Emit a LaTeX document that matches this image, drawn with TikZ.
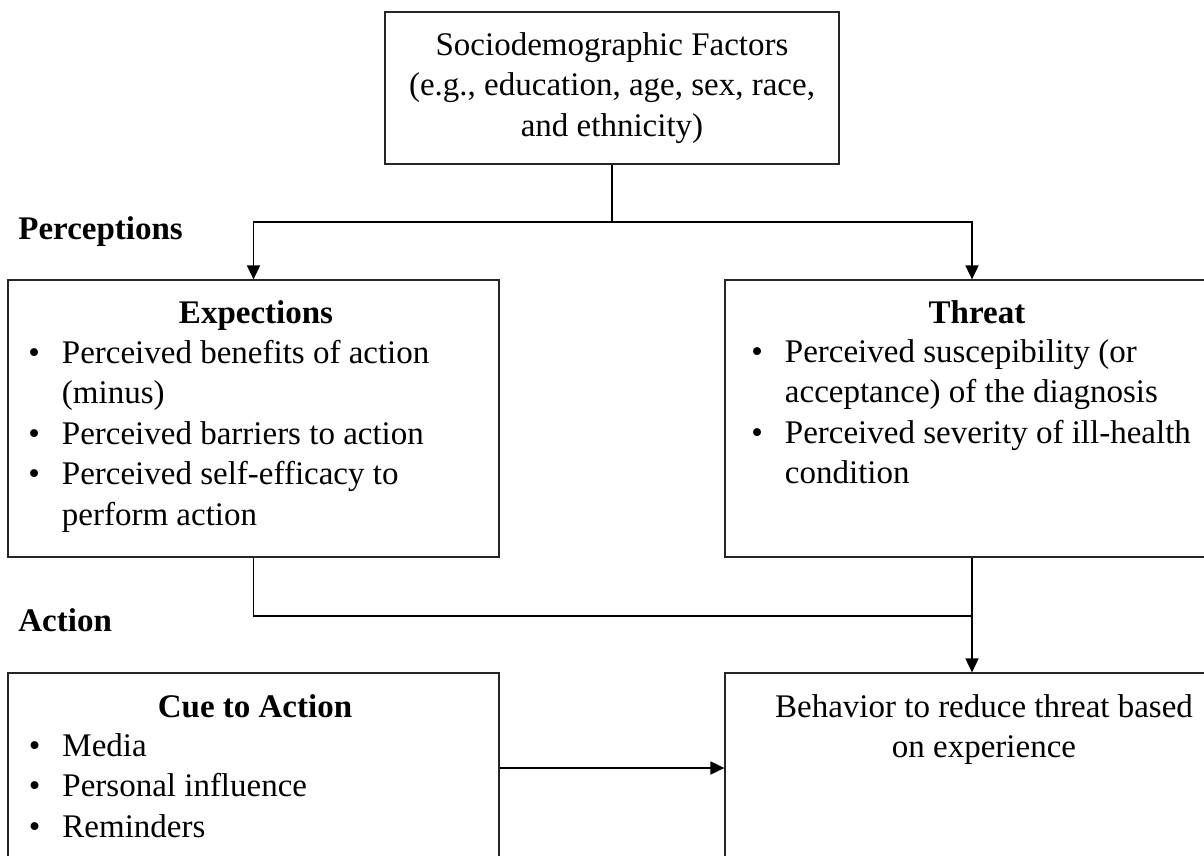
\documentclass[tikz,border=0pt]{standalone}
\usepackage{fontspec}
\setmainfont{Liberation Serif}
\usepackage{tikz}
\usetikzlibrary{arrows.meta, positioning, calc}

\begin{document}
\begin{tikzpicture}[
    x=0.5pt, y=-0.5pt,
    txt/.style={inner sep=0pt, font=\fontsize{16.5}{20.25}\selectfont},
    head/.style={txt, font=\fontsize{16.5}{20.25}\selectfont\bfseries},
    box/.style={rectangle, draw=black!85, line width=0.6pt, inner sep=0pt, align=center, font=\fontsize{16.5}{20.25}\selectfont},
    link/.style={line width=0.9pt, draw=black},
    arrow/.style={link, -{Triangle[length=7pt, width=6.5pt]}}
]
\clip (0,0) rectangle (1204,856);

% Top: background factors
\node[box, minimum width=227pt, minimum height=76pt] (sdf) at (612,88)
    {Sociodemographic Factors\\(e.g., education, age, sex, race,\\and ethnicity)};

% Row 1: perceptions
\node[head, anchor=base west] (perc_lbl) at (18,239) {Perceptions};
\node[box, minimum width=245.5pt, minimum height=138.5pt] (exp) at (253.5,418.5) {};
\node[box, minimum width=247pt, minimum height=138.5pt] (thr) at (972,418.5) {};

\node[head, anchor=base] (exp_head) at (256,323) {Expections};
\node[txt, anchor=base west] (exp_list) at (28,363) {\begin{tabular}[t]{@{}l@{\hspace{11pt}}l@{}}
    \textbullet & Perceived benefits of action\\
                & (minus)\\
    \textbullet & Perceived barriers to action\\
    \textbullet & Perceived self-efficacy to\\
                & perform action
  \end{tabular}};

\node[head, anchor=base] (thr_head) at (977,323) {Threat};
\node[txt, anchor=base west] (thr_list) at (751,362) {\begin{tabular}[t]{@{}l@{\hspace{11pt}}l@{}}
    \textbullet & Perceived suscepibility (or\\
                & acceptance) of the diagnosis\\
    \textbullet & Perceived severity of ill-health\\
                & condition
  \end{tabular}};

% Row 2: action
\node[head, anchor=base west] (act_lbl) at (18,631) {Action};
\node[box, minimum width=245.5pt, minimum height=95pt] (cue) at (253.5,768) {};
\node[box, minimum width=247pt, minimum height=95pt] (beh) at (972,768) {};

\node[head, anchor=base] (cue_head) at (255,717) {Cue to Action};
\node[txt, anchor=base west] (cue_list) at (28.5,756) {\begin{tabular}[t]{@{}l@{\hspace{11pt}}l@{}}
    \textbullet & Media\\
    \textbullet & Personal influence\\
    \textbullet & Reminders
  \end{tabular}};

\node[txt, anchor=base] (beh_text) at (984,717) {\begin{tabular}[t]{@{}c@{}}
    Behavior to reduce threat based\\
    on experience
  \end{tabular}};

% Connectors
\coordinate (split) at (612,222);
\coordinate (join) at (972,616);
\draw[link] (sdf.south) -- (split);
\draw[arrow] (split) -| (exp.north);
\draw[arrow] (split) -| (thr.north);
\draw[link] (exp.south) |- (join);
\draw[arrow] (thr.south) -- (beh.north);
\draw[arrow] (cue.east) -- (beh.west);

\end{tikzpicture}
\end{document}
